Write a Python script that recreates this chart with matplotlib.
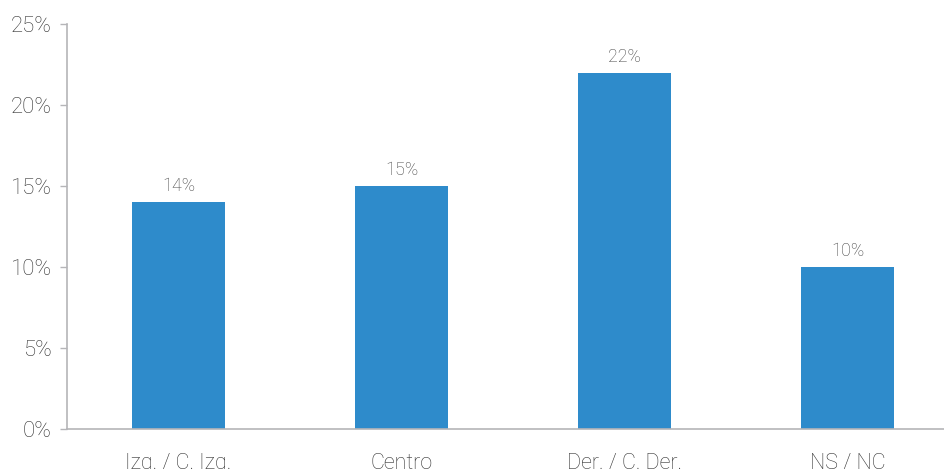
import matplotlib
matplotlib.use('Agg')
import matplotlib.pyplot as plt

# Data
categories = ['Izq. / C. Izq.', 'Centro', 'Der. / C. Der.', 'NS / NC']
values = [14, 15, 22, 10]
yticks = [0, 5, 10, 15, 20, 25]

plt.rcParams['font.family'] = ['Roboto', 'DejaVu Sans']

fig = plt.figure(figsize=(9.45, 4.69), dpi=100)
ax = fig.add_axes([67 / 945, 40 / 469, 892 / 945, 405 / 469])

x = range(len(categories))
bars = ax.bar(x, values, width=0.42, color='#2E8BCB')

# Labels above bars
for b, v in zip(bars, values):
    ax.annotate(f'{v}%', (b.get_x() + b.get_width() / 2, v),
                xytext=(0, 5), textcoords='offset points',
                ha='center', va='bottom', fontsize=13,
                color='#444444', fontweight='light')

ax.set_xlim(-0.5, 3.5)
ax.set_ylim(0, 25)
ax.set_yticks(yticks)
ax.set_yticklabels([f'{t}%' for t in yticks])
ax.set_xticks(list(x))
ax.set_xticklabels(categories)

for s in ['top', 'right']:
    ax.spines[s].set_visible(False)
for s in ['left', 'bottom']:
    ax.spines[s].set_color('#B5B5B8')
    ax.spines[s].set_linewidth(1.2)

ax.tick_params(axis='y', length=5, width=1, color='#B5B5B8', pad=6,
               labelsize=16, labelcolor='#333333')
ax.tick_params(axis='x', length=0, pad=17, labelsize=15.5,
               labelcolor='#333333')
for lbl in ax.get_xticklabels() + ax.get_yticklabels():
    lbl.set_fontweight('light')

fig.savefig('out.png', dpi=100)
